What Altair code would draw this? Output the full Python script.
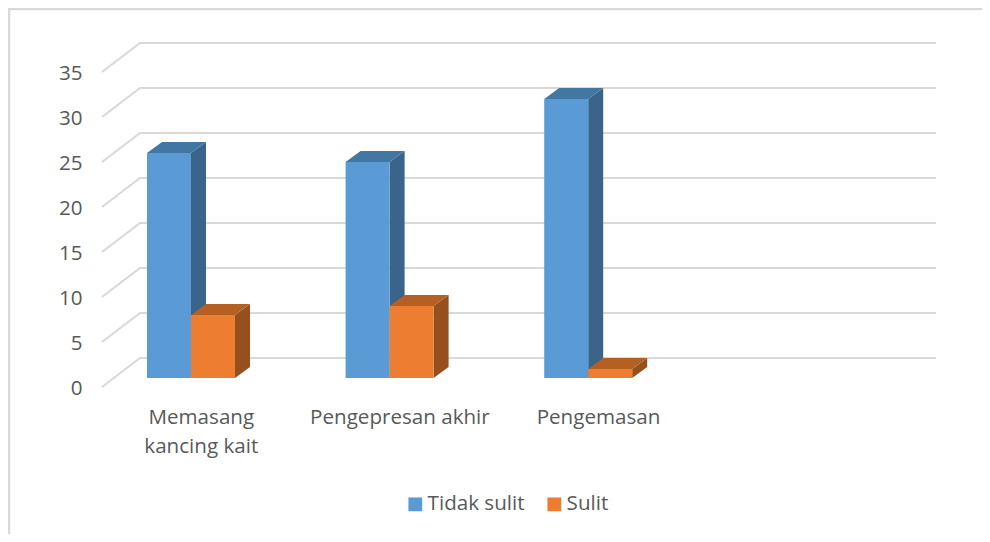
import altair as alt
import pandas as pd

categories = ["Memasang\nkancing kait", "Pengepresan akhir", "Pengemasan", ""]
tidak_sulit = [25, 24, 31]
sulit = [7, 8, 1]
series_names = ["Tidak sulit", "Sulit"]
y_ticks = [0, 5, 10, 15, 20, 25, 30, 35]

PX_X = 198.6      # pixels per category
PX_Y = 9.0        # pixels per value unit
FONT = "Open Sans"
FS = 20.6
GREY = "#595959"
GRID = "#D9D9D9"
front = ["#5B9BD5", "#ED7D31"]
topc = ["#4377A3", "#B55F22"]
side = ["#3A648A", "#96501D"]

W, H = 834, 345
x_max = W / PX_X
x_scale = alt.Scale(domain=[0, x_max], range=[0, W], nice=False, zero=False)
y_scale = alt.Scale(domain=[0, H / PX_Y], range=[H, 0], nice=False, zero=False)

bar_w = 44.0 / PX_X
bar_start = 45.0 / PX_X
base = 9.0 / PX_Y       # bar foot above front plane
dx_bar = 15.0 / PX_X
dy_bar = 11.0 / PX_Y
dx_back = 38.0 / PX_X
dy_back = 29.0 / PX_Y

X = alt.X("x:Q", scale=x_scale, axis=None)

front_rows, side_rows, top_rows = [], [], []
for s, vals in enumerate([tidak_sulit, sulit]):
    for i, v in enumerate(vals):
        l = i + bar_start + s * bar_w
        r = l + bar_w
        t = v + base
        key = f"{s}-{i}"
        front_rows.append(dict(series=series_names[s], s=s, x=l, x2=r, y=t, y2=base))
        side_rows += [
            dict(s=s, k=key, x=r, y=t, y2=base),
            dict(s=s, k=key, x=r + dx_bar, y=t + dy_bar, y2=base + dy_bar),
        ]
        top_rows += [
            dict(s=s, k=key, y=t, x=l, x2=r),
            dict(s=s, k=key, y=t + dy_bar, x=l + dx_bar, x2=r + dx_bar),
        ]
front_df = pd.DataFrame(front_rows)
side_df = pd.DataFrame(side_rows)
top_df = pd.DataFrame(top_rows)

grid_rows = []
for v in y_ticks:
    grid_rows += [
        dict(t=v, o=0, x=0, y=v),
        dict(t=v, o=1, x=dx_back, y=v + dy_back),
        dict(t=v, o=2, x=x_max, y=v + dy_back),
    ]
grid = alt.Chart(pd.DataFrame(grid_rows)).mark_line(color=GRID, strokeWidth=2.2).encode(
    x=X,
    y=alt.Y("y:Q", scale=y_scale, title=None,
            axis=alt.Axis(values=y_ticks, domain=False, ticks=False, grid=False,
                          labelPadding=20, labelFontSize=FS, labelFont=FONT,
                          labelColor=GREY, labelOffset=1, format="d")),
    detail="t:N", order="o:Q",
)

layers = [grid]
legend = alt.Legend(
    orient="none", legendX=303, legendY=452, direction="horizontal", title=None,
    symbolType="square", symbolSize=190, symbolStrokeWidth=0, symbolOpacity=1,
    labelFont=FONT, labelFontSize=FS, labelColor=GREY, labelOffset=2,
    columnPadding=19, values=series_names,
)
for s in range(2):
    layers.append(alt.Chart(side_df[side_df.s == s]).mark_area(color=side[s], opacity=1).encode(
        x=X, y=alt.Y("y:Q", scale=y_scale, stack=None), y2="y2:Q", detail="k:N"))
    layers.append(alt.Chart(top_df[top_df.s == s]).mark_area(color=topc[s], opacity=1, orient="horizontal").encode(
        y=alt.Y("y:Q", scale=y_scale), x=alt.X("x:Q", scale=x_scale, axis=None, stack=None), x2="x2:Q", detail="k:N"))
    layers.append(alt.Chart(front_df[front_df.s == s]).mark_rect(opacity=1).encode(
        x=X, x2="x2:Q", y=alt.Y("y:Q", scale=y_scale), y2="y2:Q",
        color=alt.Color("series:N", scale=alt.Scale(domain=series_names, range=front), legend=legend)))

label_df = pd.DataFrame({"label": [c.split("\n") for c in categories[:3]],
                         "x": [i + 0.5 for i in range(3)]})
labels = alt.Chart(label_df).mark_text(
    baseline="top", align="center", font=FONT, fontSize=FS, color=GREY, lineHeight=29
).encode(x=X, y=alt.value(H + 21), text="label:N")
layers.append(labels)

frame_left = alt.Chart(pd.DataFrame({"a": [0]})).mark_rule(color=GRID, strokeWidth=2.5).encode(
    x=alt.value(-93), y=alt.value(-34), y2=alt.value(H + 147))
frame_top = alt.Chart(pd.DataFrame({"a": [0]})).mark_rule(color=GRID, strokeWidth=2.5).encode(
    y=alt.value(-33), x=alt.value(-94), x2=alt.value(W + 46))
layers += [frame_left, frame_top]

chart = alt.layer(*layers).properties(
    width=W, height=H,
    autosize=alt.AutoSizeParams(type="none"),
    padding={"left": 94, "top": 34, "right": 46, "bottom": 147},
).configure_view(stroke=None)

chart.save("out.html", embed_options={"renderer": "svg", "actions": False})
